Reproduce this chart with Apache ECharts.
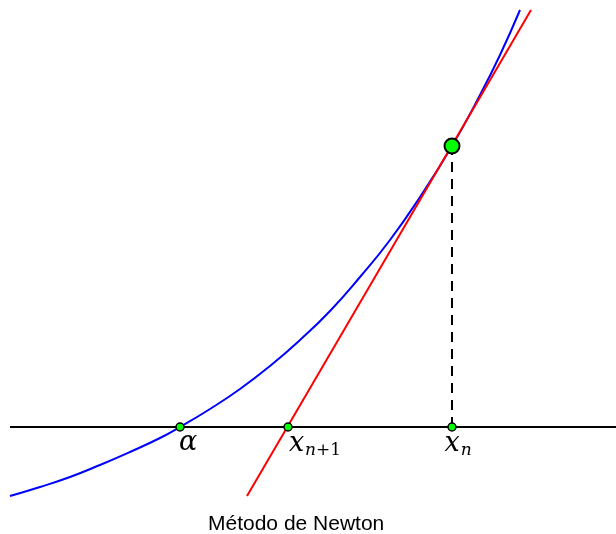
<!DOCTYPE html>
<html><head><meta charset="utf-8">
<script src="https://cdn.jsdelivr.net/npm/echarts@6/dist/echarts.min.js"></script>
<style>html,body{margin:0;padding:0;background:#fff}#c{width:616px;height:534px}</style>
</head><body><div id="c"></div>
<script>
// Values (math units)
const curve = [[-1.70,-0.69],[-1.40,-0.60],[-1.10,-0.50],[-0.80,-0.38],[-0.50,-0.25],[-0.20,-0.11],[0,0],[0.30,0.18],[0.60,0.38],[0.90,0.61],[1.20,0.87],[1.50,1.16],[1.80,1.50],[2.10,1.87],[2.40,2.30],[2.72,2.81],[3.00,3.32],[3.20,3.72],[3.40,4.17]];
const tangent = [[0.67,-0.69],[3.51,4.17]];
const axisLine = [[-1.70,0],[4.36,0]];
const dropLine = [[2.72,0],[2.72,2.81]];
const rootX = [0, 1.08, 2.72];
const rootNames = ['alpha','xn1','xn'];
const currentPoint = [[2.72,2.81]];
const caption = 'Método de Newton';

const serif = 'DejaVu Serif';
const labelRich = {
  a:{fontFamily:serif, fontStyle:'italic', fontSize:27, color:'#000'},
  x:{fontFamily:serif, fontStyle:'italic', fontSize:27, color:'#000'},
  s:{fontFamily:serif, fontStyle:'italic', fontSize:17, color:'#000', padding:[12,0,0,1]},
  d:{fontFamily:serif, fontSize:17, color:'#000', padding:[12,0,0,0]}
};
const labelText = {alpha:'{a|α}', xn1:'{x|x}{s|n}{d|+1}', xn:'{x|x}{s|n}'};
const labelOffset = {alpha:[8,-2], xn1:[27,-2], xn:[6,-2]};

const rootData = rootX.map((x,i)=>({value:[x,0], name:rootNames[i],
  label:{show:true, position:'bottom', distance:0, offset:labelOffset[rootNames[i]],
    formatter:labelText[rootNames[i]], rich:labelRich}}));

const chart = echarts.init(document.getElementById('c'));
chart.setOption({
  animation:false,
  title:{text:caption, left:203, top:509, textStyle:{fontFamily:'Liberation Sans', fontWeight:'normal', fontSize:21, color:'#000'}},
  grid:{left:10, right:0, top:10, bottom:38},
  xAxis:{type:'value', min:-1.70, max:4.36, show:false},
  yAxis:{type:'value', min:-0.69, max:4.17, show:false},
  series:[
    {type:'line', data:axisLine, symbol:'none', lineStyle:{color:'#000', width:2}, z:1},
    {type:'line', data:curve, smooth:true, symbol:'none', lineStyle:{color:'#0000ff', width:2}, z:2},
    {type:'line', data:tangent, symbol:'none', lineStyle:{color:'#ff0000', width:2}, z:3},
    {type:'line', data:dropLine, symbol:'none', lineStyle:{color:'#000', width:2, type:[10,7]}, z:3},
    {type:'scatter', data:rootData, symbol:'circle', symbolSize:8, z:5,
      itemStyle:{color:'#00ff00', borderColor:'#000', borderWidth:1.5, opacity:1}},
    {type:'scatter', data:currentPoint, symbol:'circle', symbolSize:15, z:5,
      itemStyle:{color:'#00ff00', borderColor:'#000', borderWidth:2, opacity:1}}
  ]
});
</script></body></html>
